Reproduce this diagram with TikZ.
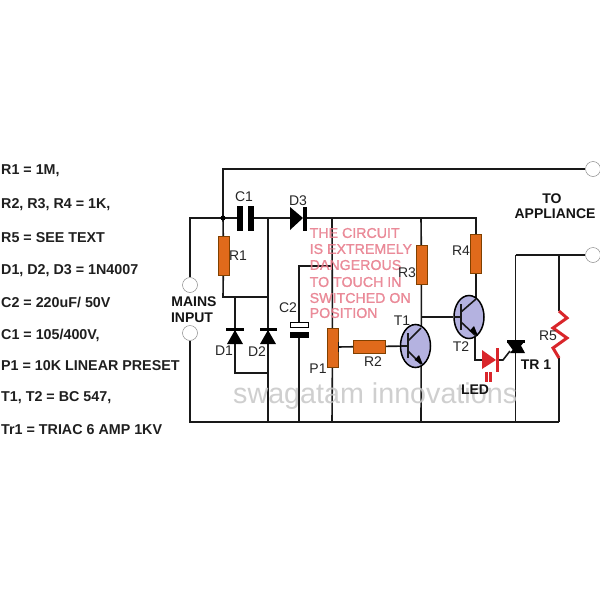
\documentclass[tikz,border=0pt]{standalone}
\usepackage{fontspec}
\setmainfont{Liberation Sans}
\newfontfamily\warnfont{Liberation Sans}[FakeBold=1.2]
\usetikzlibrary{shapes.geometric,backgrounds}
\definecolor{resfill}{HTML}{E06A1B}
\definecolor{pink}{HTML}{E87A8A}
\definecolor{ledred}{HTML}{D9262B}
\definecolor{trfill}{HTML}{B4B2E0}
\tikzset{x=1pt,y=-1pt,
 wire/.style={line width=1.6pt,draw=black!90},
 res/.style={draw=black!50!orange,line width=.3pt,fill=resfill,minimum width=11pt,inner sep=0pt,rectangle},
 term/.style={circle,draw=black!45,line width=.5pt,fill=white,minimum size=15pt,inner sep=0pt},
 dot/.style={circle,fill=black,minimum size=5pt,inner sep=0pt},
 lab/.style={font=\fontsize{14}{15}\selectfont,text=black!85,inner sep=0pt},
 blab/.style={font=\fontsize{14}{15}\selectfont\bfseries,inner sep=0pt,text=black!92},
 spec/.style={font=\fontsize{14.3}{15}\selectfont\bfseries,inner sep=0pt,anchor=west,text=black!88},
 warn/.style={font=\fontsize{14.2}{15}\selectfont\warnfont,inner sep=0pt,anchor=west,text=pink,text opacity=.85},
 tr/.style={ellipse,draw=black,line width=1.5pt,fill=trfill,minimum width=30pt,minimum height=43pt,inner sep=0pt},
}
\begin{document}
\begin{tikzpicture}
\useasboundingbox (0,0) rectangle (600,600);
% coordinates
\coordinate (jn) at (223,218);
\coordinate (tl) at (223,169);
\coordinate (lt) at (190,218);
\coordinate (lb) at (190,422);
\coordinate (c1a) at (240,218);
\coordinate (c1b) at (251,218);
\coordinate (d3a) at (290,218);
\coordinate (d3b) at (304,218);
\coordinate (j2) at (268,218);
\coordinate (j3) at (332,218);
\coordinate (j4) at (421,218);
\coordinate (j5) at (476,218);
\coordinate (b2) at (268,422);
\coordinate (b3) at (299,422);
\coordinate (b4) at (332,422);
\coordinate (b5) at (421,422);
\coordinate (b6) at (515.5,422);
\coordinate (b7) at (559,422);
\coordinate (c3) at (299,266);
\coordinate (c4) at (332,266);
\coordinate (c2a) at (299,322);
\coordinate (c2b) at (299,338);
\coordinate (r1j) at (268,297);
\coordinate (r1c) at (223,297);
\coordinate (d1t) at (235,297);
\coordinate (d1b) at (235,373);
\coordinate (d2b) at (268,373);
\coordinate (t2j) at (421,317);
\coordinate (tt) at (515.5,255);
\coordinate (r5t) at (559,255);
\coordinate (r5a) at (559,311);
\coordinate (r5b) at (559,358);
\coordinate (t2c) at (476,300);
\coordinate (t2e) at (475,334);
\coordinate (ledc) at (475,360);
\coordinate (leda) at (482,360);
\coordinate (gate0) at (498,360);
\coordinate (gate1) at (503,360);
\coordinate (gate2) at (510,351);
\coordinate (wip) at (338,347);
% nodes
\node[term] (m1) at (190,285) {};
\node[term] (m2) at (190,333) {};
\node[term] (o1) at (593,169) {};
\node[term] (o2) at (593,255) {};
\node[res,minimum height=39pt] (R1) at (223.5,255.5) {};
\node[res,minimum height=39pt] (R3) at (421.5,265) {};
\node[res,minimum height=39pt] (R4) at (476,254) {};
\node[res,minimum height=39pt] (P1) at (332.5,347.5) {};
\node[res,minimum width=32pt,minimum height=13pt] (R2) at (369,346.5) {};
\node[tr] (T1) at (415.5,346) {};
\node[tr] (T2) at (469,317) {};
\node[dot] at (jn) {};
% wires
\begin{pgfonlayer}{background}
\fill[white] (0,0) rectangle (600,600);
\draw[wire] (m1) -- (lt) -- (jn);
\draw[wire] (m2) -- (lb) -- (b7);
\draw[wire] (o1) -- (tl) -- (jn);
\draw[wire] (jn) -- (R1);
\draw[wire] (R1) -- (r1c) -- (r1j);
\draw[wire] (jn) -- (c1a);
\draw[wire] (c1b) -- (j2) -- (d3a);
\draw[wire] (j2) -- (b2);
\draw[wire] (d3b) -- (j5) -- (R4);
\draw[wire] (j3) -- (P1);
\draw[wire] (P1) -- (b4);
\draw[wire] (c4) -- (c3) -- (c2a);
\draw[wire] (c2b) -- (b3);
\draw[wire] (j4) -- (R3);
\draw[wire] (R3) -- (b5);
\draw[wire] (d1t) -- (d1b) -- (d2b);
\draw[wire] (wip) -- (R2);
\draw[wire] (R2) -- (T1);
\draw[wire] (t2j) -- (T2);
\draw[wire] (R4) -- (t2c);
\draw[wire] (tt) -- (o2);
\draw[wire] (tt) -- (b6);
\draw[wire] (r5t) -- (r5a);
\draw[wire] (r5b) -- (b7);
\draw[wire] (t2e) -- (ledc) -- (leda);
\draw[wire] (gate0) -- (gate1) -- (gate2);
\end{pgfonlayer}
% C1
\fill (237,206) rectangle (243,231);
\fill (248,206) rectangle (254,231);
% D3
\fill (290,207) -- (303,218) -- (290,230) -- cycle;
\fill (303,207) rectangle (306.5,231);
% D1 D2
\fill (226,327.5) rectangle (243.5,331);
\fill (235,330) -- (227,344) -- (243,344) -- cycle;
\fill (260,327.5) rectangle (277,331);
\fill (268,330) -- (260,344) -- (276,344) -- cycle;
% C2
\draw[line width=1pt,fill=white] (290.5,322) rectangle (308.5,327);
\fill (290,332) rectangle (309,338);
% P1 wiper
\draw[wire,line width=1.8pt] (338.5,342) -- (338.5,352);
% T1
\draw[wire,line width=2.2pt] (408,333) -- (408,358);
\draw[wire] (401,346) -- (408,346);
\draw[wire] (408,341) -- (421,328);
\draw[wire] (408,351) -- (421,364);
\fill (423,365) -- (414.5,360) -- (419,355) -- cycle;
% T2
\draw[wire,line width=2.2pt] (461,304) -- (461,330);
\draw[wire] (454,317) -- (461,317);
\draw[wire] (461,312) -- (476,299);
\draw[wire] (461,322) -- (476,336);
\fill (478,336) -- (469.5,331) -- (474,326) -- cycle;
% LED
\fill[ledred] (482,350) -- (496,360) -- (482,369) -- cycle;
\fill[ledred] (496,348) rectangle (499,372);
\fill[ledred] (485,372) rectangle (487.5,382);
\fill[ledred] (489,372) rectangle (491.5,382);
% Triac
\fill (507,340) rectangle (525,342.5);
\fill (507,342) -- (524,342) -- (515,353) -- cycle;
\fill (519,342) -- (510,353) -- (525,353) -- cycle;
% R5
\draw[ledred,line width=3pt,line join=miter] (r5a) -- (567,318) -- (553,328) -- (567,338) -- (553,348) -- (r5b);
% watermark
\node[font=\fontsize{28.7}{30}\selectfont,text=black!22,anchor=west,inner sep=0pt,text opacity=.85] (wm) at (233,396) {swagatam innovations};
% warning
\node[warn] (w1) at (309.5,233) {THE CIRCUIT};
\node[warn] (w2) at (309.5,249) {IS EXTREMELY};
\node[warn] (w3) at (309.5,265) {DANGEROUS};
\node[warn] (w4) at (309.5,282) {TO TOUCH IN};
\node[warn] (w5) at (309.5,298) {SWITCHED ON};
\node[warn] (w6) at (309.5,313) {POSITION};
% labels
\node[lab] (lC1) at (244,197) {C1};
\node[lab] (lD3) at (298,201) {D3};
\node[lab] (lR1) at (238,256) {R1};
\node[lab] (lC2) at (288,308) {C2};
\node[lab] (lD1) at (224,351) {D1};
\node[lab] (lD2) at (257,352) {D2};
\node[lab] (lP1) at (318,369) {P1};
\node[lab] (lR2) at (373,362) {R2};
\node[lab] (lR3) at (407,273) {R3};
\node[lab] (lR4) at (461,251) {R4};
\node[lab] (lT1) at (402,321) {T1};
\node[lab] (lT2) at (461,347) {T2};
\node[lab] (lR5) at (548,336) {R5};
\node[blab] (lLED) at (475,390) {LED};
\node[blab] (lTR) at (536,365) {TR 1};
\node[blab] (lM1) at (194,302) {MAINS};
\node[blab] (lM2) at (192,318) {INPUT};
\node[blab] (lA1) at (552,199) {TO};
\node[blab] (lA2) at (555,214) {APPLIANCE};
% specs
\node[spec] at (1,171) {R1 = 1M,};
\node[spec] at (1,205) {R2, R3, R4 = 1K,};
\node[spec] at (1,238) {R5 = SEE TEXT};
\node[spec] at (1,271) {D1, D2, D3 = 1N4007};
\node[spec] at (1,302) {C2 = 220uF/ 50V};
\node[spec] at (1,335) {C1 = 105/400V,};
\node[spec] at (1,366) {P1 = 10K LINEAR PRESET};
\node[spec] at (1,398) {T1, T2 = BC 547,};
\node[spec] at (1,430) {Tr1 = TRIAC 6 AMP 1KV};
\end{tikzpicture}
\end{document}
